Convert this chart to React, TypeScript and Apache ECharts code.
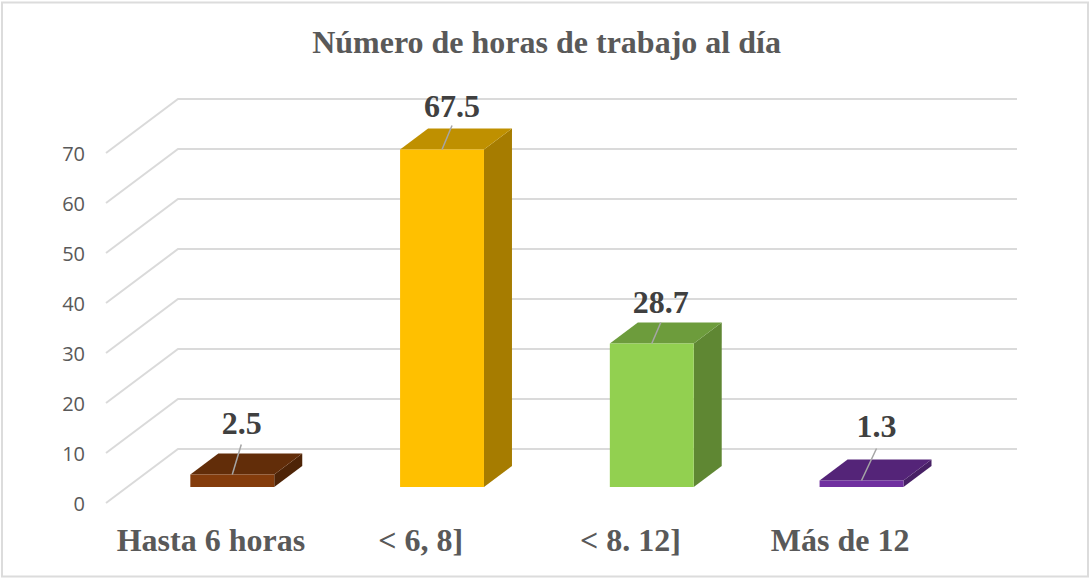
import React, { useEffect, useRef } from "react";
import * as echarts from "echarts";

const chartTitle = "Número de horas de trabajo al día";
const categories = ["Hasta 6 horas", "< 6, 8]", "< 8. 12]", "Más de 12"];
const values = [2.5, 67.5, 28.7, 1.3];
const valueLabels = ["2.5", "67.5", "28.7", "1.3"];
const gridValues = [0, 10, 20, 30, 40, 50, 60, 70];

const frontColors = ["#843C0C", "#FFC000", "#92D050", "#7030A0"];
const topColors = ["#622D09", "#BF9000", "#6D9C3C", "#542478"];
const sideColors = ["#4E2407", "#A67C00", "#5F8733", "#472065"];

// leader-line end and label centre, relative to the bar's top-front centre
const leaderEnds = [[9, -30], [10, -24], [9, -21], [15, -32]];
const labelCentres = [[9.5, -52], [10, -44], [9, -42], [15, -55]];

const WALL_DX = 72, WALL_DY = -54;
const BAR_DX = 21.4, BAR_DY = -16;
const DEPTH_DX = 28, DEPTH_DY = -21;

export default function App() {
  const ref = useRef<HTMLDivElement>(null);
  useEffect(() => {
    document.body.style.margin = "0";
    const chart = echarts.init(ref.current!, undefined, { renderer: "svg" });
    chart.setOption({
      animation: false,
      backgroundColor: "#fff",
      title: {
        text: chartTitle,
        left: 541.5,
        top: 21,
        textAlign: "center",
        textStyle: { fontFamily: "Liberation Serif", fontWeight: "bold", fontSize: 32, color: "#595959" },
      },
      graphic: [
        {
          type: "rect",
          silent: true,
          z: -1,
          shape: { x: 2, y: 2.5, width: 1086, height: 574 },
          style: { fill: "none", stroke: "#DCDCDC", lineWidth: 2 },
        },
      ],
      grid: { left: 106, top: 153, width: 839, height: 350 },
      xAxis: {
        type: "category",
        data: categories,
        axisLine: { show: false },
        axisTick: { show: false },
        axisLabel: {
          margin: 21,
          fontFamily: "Liberation Serif",
          fontWeight: "bold",
          fontSize: 32,
          color: "#595959",
          interval: 0,
        },
      },
      yAxis: {
        type: "value",
        min: 0,
        max: 70,
        interval: 10,
        axisLine: { show: false },
        axisTick: { show: false },
        splitLine: { show: false },
        axisLabel: { margin: 21, padding: [2, 0, 0, 0], fontFamily: "Open Sans", fontSize: 20, color: "#595959" },
      },
      series: [
        {
          type: "custom",
          coordinateSystem: "cartesian2d",
          clip: false,
          silent: true,
          z: 1,
          data: gridValues.map((v) => [0, v]),
          encode: { x: 0, y: 1 },
          renderItem: (params: any, api: any) => {
            const y = api.coord([0, api.value(1)])[1];
            const g = params.coordSys;
            return {
              type: "polyline",
              shape: {
                points: [
                  [g.x, y],
                  [g.x + WALL_DX, y + WALL_DY],
                  [g.x + g.width + WALL_DX, y + WALL_DY],
                ],
              },
              style: { fill: "none", stroke: "#DADADA", lineWidth: 2 },
            };
          },
        },
        {
          type: "custom",
          coordinateSystem: "cartesian2d",
          clip: false,
          silent: true,
          z: 2,
          data: values.map((v, i) => [i, v]),
          encode: { x: 0, y: 1 },
          renderItem: (params: any, api: any) => {
            const i = params.dataIndex;
            const [cx, yTop0] = api.coord([i, api.value(1)]);
            const yBase0 = api.coord([i, 0])[1];
            const w = api.size([1, 0])[0] * 0.4;
            const x0 = cx + BAR_DX - w / 2;
            const x1 = x0 + w;
            const yt = yTop0 + BAR_DY;
            const yb = yBase0 + BAR_DY;
            const mx = (x0 + x1) / 2;
            return {
              type: "group",
              children: [
                {
                  type: "polygon",
                  shape: { points: [[x1, yt], [x1 + DEPTH_DX, yt + DEPTH_DY], [x1 + DEPTH_DX, yb + DEPTH_DY], [x1, yb]] },
                  style: { fill: sideColors[i] },
                },
                {
                  type: "polygon",
                  shape: { points: [[x0, yt], [x0 + DEPTH_DX, yt + DEPTH_DY], [x1 + DEPTH_DX, yt + DEPTH_DY], [x1, yt]] },
                  style: { fill: topColors[i] },
                },
                {
                  type: "rect",
                  shape: { x: x0, y: yt, width: w, height: yb - yt },
                  style: { fill: frontColors[i] },
                },
                {
                  type: "line",
                  shape: { x1: mx, y1: yt, x2: mx + leaderEnds[i][0], y2: yt + leaderEnds[i][1] },
                  style: { stroke: "#A6A6A6", lineWidth: 1.5 },
                },
                {
                  type: "text",
                  x: mx + labelCentres[i][0],
                  y: yt + labelCentres[i][1],
                  style: {
                    text: valueLabels[i],
                    align: "center",
                    verticalAlign: "middle",
                    fontFamily: "Liberation Serif",
                    fontWeight: "bold",
                    fontSize: 32,
                    fill: "#404040",
                  },
                },
              ],
            };
          },
        },
      ],
    });
    return () => chart.dispose();
  }, []);
  return <div ref={ref} style={{ width: 1090, height: 579 }} />;
}
